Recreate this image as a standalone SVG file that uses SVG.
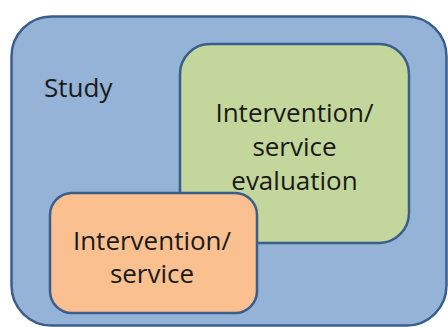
<svg xmlns="http://www.w3.org/2000/svg" width="448" height="327" viewBox="0 0 448 327">
<style>
.box{stroke:#3a5e8c;stroke-width:2.5}
.t{font-family:"Open Sans","Noto Sans",sans-serif;font-size:26px;fill:#1a1a1a}
.c{text-anchor:middle}
</style>
<rect width="448" height="327" fill="#ffffff"/>
<g id="study">
<rect class="box" x="11.5" y="16.5" width="435" height="309" rx="40" fill="#95b3d7"/>
<text class="t" x="44" y="97">Study</text>
</g>
<g id="evaluation">
<rect class="box" x="180" y="44" width="229" height="199" rx="30" fill="#c3d69b"/>
<text class="t c" x="294.5" y="122">Intervention/</text>
<text class="t c" x="294.5" y="156">service</text>
<text class="t c" x="294.5" y="190">evaluation</text>
</g>
<g id="service">
<rect class="box" x="50" y="193" width="207" height="120" rx="22" fill="#fac090"/>
<text class="t c" x="152" y="250">Intervention/</text>
<text class="t c" x="152" y="283">service</text>
</g>
<g id="connectors"/>
</svg>
